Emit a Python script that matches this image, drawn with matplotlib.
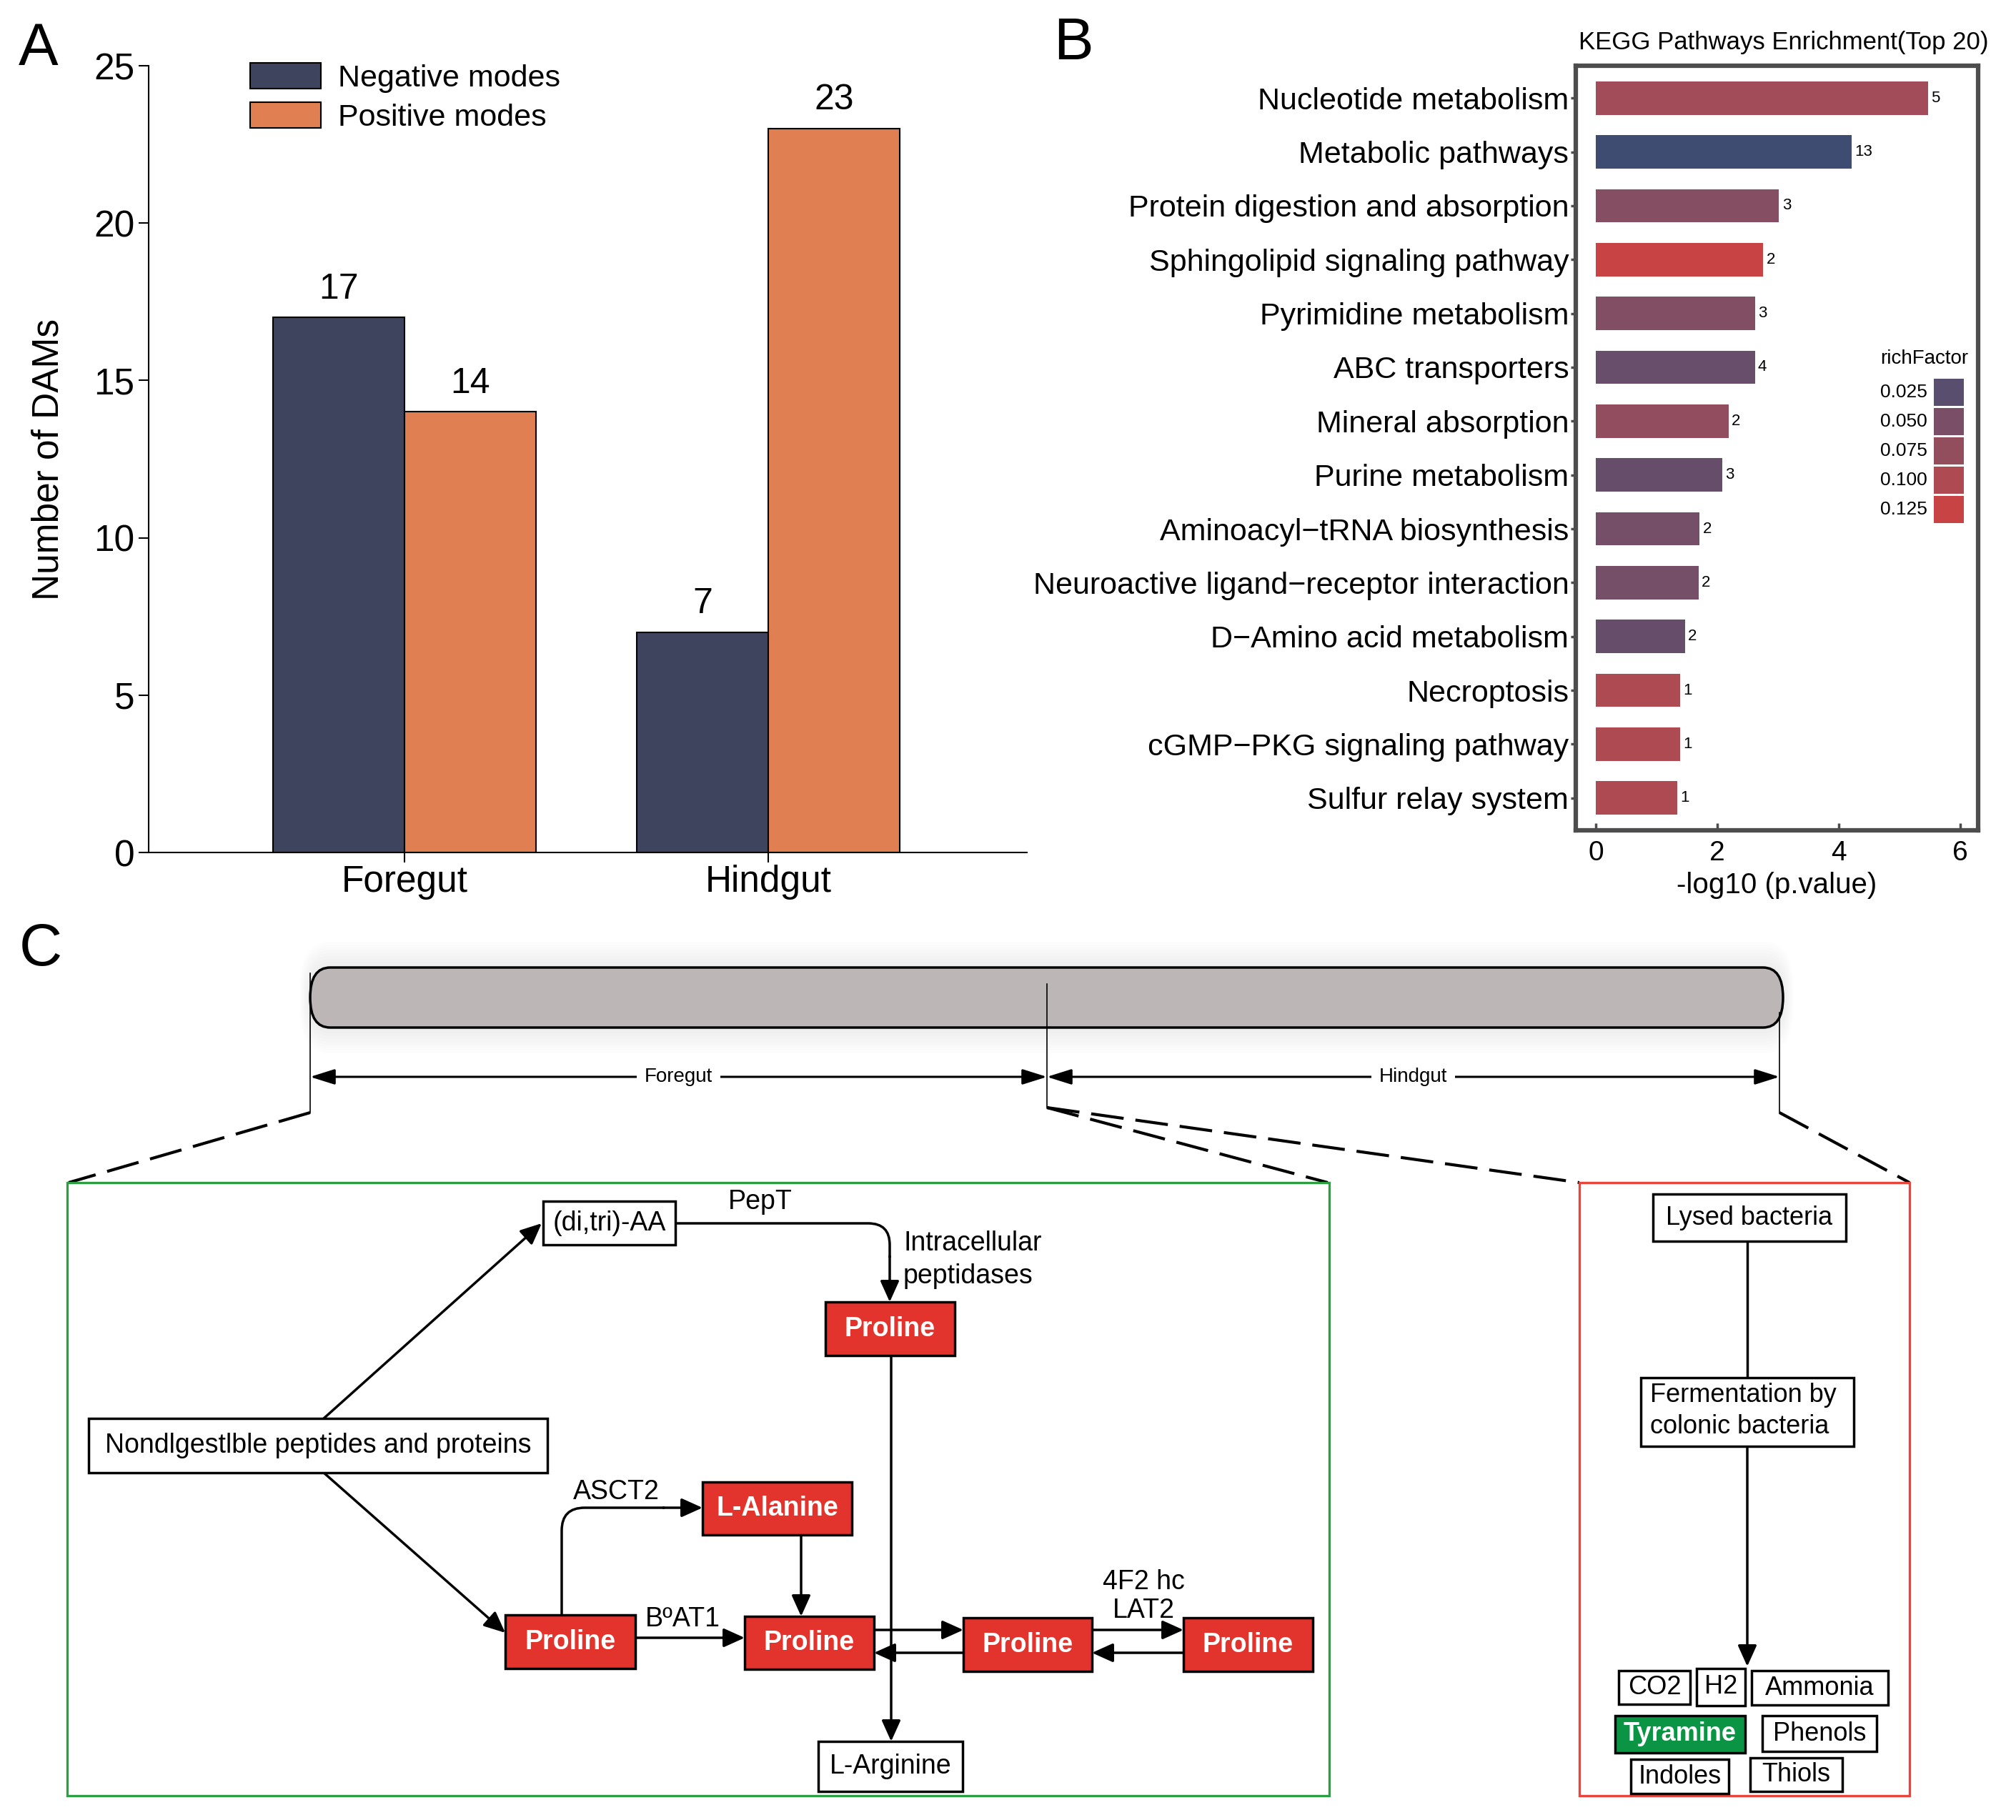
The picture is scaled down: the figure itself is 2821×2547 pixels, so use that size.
import numpy as np
import matplotlib
matplotlib.use('Agg')
import matplotlib.pyplot as plt
from matplotlib.patches import Rectangle, FancyBboxPatch, FancyArrowPatch, PathPatch
from matplotlib.path import Path
from matplotlib.colors import LinearSegmentedColormap, Normalize

plt.rcParams['font.family'] = ['Liberation Sans', 'DejaVu Sans']

# ---------------- data ----------------
# Panel A
groups = ['Foregut', 'Hindgut']
series_names = ['Negative modes', 'Positive modes']
negative_counts = [17, 7]
positive_counts = [14, 23]
a_yticks = [0, 5, 10, 15, 20, 25]

# Panel B
pathways = ['Nucleotide metabolism', 'Metabolic pathways', 'Protein digestion and absorption',
            'Sphingolipid signaling pathway', 'Pyrimidine metabolism', 'ABC transporters',
            'Mineral absorption', 'Purine metabolism', 'Aminoacyl\u2212tRNA biosynthesis',
            'Neuroactive ligand\u2212receptor interaction', 'D\u2212Amino acid metabolism',
            'Necroptosis', 'cGMP\u2212PKG signaling pathway', 'Sulfur relay system']
neglog10_p = [5.47, 4.21, 3.02, 2.76, 2.63, 2.62, 2.19, 2.08, 1.71, 1.69, 1.47, 1.39, 1.39, 1.34]
gene_counts = [5, 13, 3, 2, 3, 4, 2, 3, 2, 2, 2, 1, 1, 1]
rich_factor = [0.088, 0.006, 0.062, 0.125, 0.058, 0.036, 0.074, 0.034, 0.046, 0.046, 0.034,
               0.100, 0.100, 0.100]
rf_breaks = [0.025, 0.050, 0.075, 0.100, 0.125]
b_xticks = [0, 2, 4, 6]

# ---------------- figure ----------------
W, H = 2821, 2547
fig = plt.figure(figsize=(W / 100, H / 100), dpi=100)
fig.patch.set_facecolor('white')


def fx(x):
    return x / W


def fy(y):
    return 1 - y / H


# overlay axes in pixel coordinates (for panel C and the richFactor key)
axC = fig.add_axes([0, 0, 1, 1], zorder=3)
axC.set_xlim(0, W)
axC.set_ylim(H, 0)
axC.axis('off')

# ---------------- Panel A ----------------
c_neg = '#3f445e'
c_pos = '#e08052'
axA = fig.add_axes([fx(208), fy(1193), fx(1437) - fx(208), fy(92) - fy(1193)], zorder=2)
axA.set_facecolor('none')
xpos = np.arange(len(groups))
bw = 0.3615
bars_neg = axA.bar(xpos - bw / 2, negative_counts, width=bw, color=c_neg, edgecolor='black', linewidth=1.5)
bars_pos = axA.bar(xpos + bw / 2, positive_counts, width=bw, color=c_pos, edgecolor='black', linewidth=1.5)
axA.bar_label(bars_neg, padding=12, fontsize=36)
axA.bar_label(bars_pos, padding=12, fontsize=36)
axA.set_xlim(-0.703, 1.711)
axA.set_ylim(0, 25)
axA.set_yticks(a_yticks)
axA.set_xticks(xpos)
axA.set_xticklabels(groups)
for s in ['top', 'right']:
    axA.spines[s].set_visible(False)
for s in ['left', 'bottom']:
    axA.spines[s].set_linewidth(1.5)
axA.tick_params(axis='y', labelsize=37, length=10, width=1.5, pad=4, direction='out')
axA.tick_params(axis='x', labelsize=37, length=10, width=1.5, pad=2, direction='out')
axA.set_ylabel('Number of DAMs', fontsize=37, labelpad=28)
axA.legend([bars_neg, bars_pos], series_names, loc='upper left',
           bbox_to_anchor=(fx(350), fy(88)), bbox_transform=fig.transFigure,
           frameon=False, fontsize=31, handlelength=2.3, handleheight=0.9,
           handletextpad=0.55, labelspacing=0.32, borderpad=0, borderaxespad=0)

# ---------------- Panel B ----------------
nodes_v = [0.006, 0.025, 0.050, 0.075, 0.100, 0.125]
nodes_c = ['#3f4c72', '#5a4e6e', '#7a4e66', '#934e5e', '#ad4a52', '#c84444']
cmap = LinearSegmentedColormap.from_list(
    'rf', [((v - nodes_v[0]) / (nodes_v[-1] - nodes_v[0]), c) for v, c in zip(nodes_v, nodes_c)])
norm = Normalize(vmin=nodes_v[0], vmax=nodes_v[-1])

axB = fig.add_axes([fx(2205), fy(1162), fx(2768) - fx(2205), fy(92) - fy(1162)], zorder=2)
yb = np.arange(len(pathways))
axB.barh(yb, neglog10_p, height=0.62, color=cmap(norm(rich_factor)), edgecolor='none')
for yi, v, c in zip(yb, neglog10_p, gene_counts):
    axB.text(v + 0.05, yi, str(c), ha='left', va='center', fontsize=16)
axB.set_yticks(yb)
axB.set_yticklabels(pathways, fontsize=31)
axB.set_ylim(len(pathways) - 0.4, -0.6)
axB.set_xlim(-0.33, 6.3)
axB.set_xticks(b_xticks)
for s in axB.spines.values():
    s.set_linewidth(4.5)
    s.set_color('#4d4d4d')
axB.tick_params(axis='y', length=5, width=2.5, color='#4d4d4d', pad=2, direction='out')
axB.tick_params(axis='x', labelsize=28, length=7, width=2.5, color='#4d4d4d', pad=10, direction='in')
axB.set_xlabel('-log10 (p.value)', fontsize=29, labelpad=6)
fig.text(fx(2496), fy(60), 'KEGG Pathways Enrichment(Top 20)', ha='center', va='center', fontsize=25)

# richFactor key (inside panel B)
axC.text(2631, 502, 'richFactor', ha='left', va='center', fontsize=20, zorder=6)
for i, v in enumerate(rf_breaks):
    yc = 549 + 41 * i
    axC.add_patch(Rectangle((2706, yc - 19), 42, 38, facecolor=cmap(norm(v)), edgecolor='none', zorder=6))
    axC.text(2631, yc, '%.3f' % v, ha='left', va='center', fontsize=19, zorder=6)

# ---------------- panel letters ----------------
fig.text(fx(26), fy(30), 'A', ha='left', va='top', fontsize=60)
fig.text(fx(1474), fy(22), 'B', ha='left', va='top', fontsize=60)
fig.text(fx(27), fy(1290), 'C', ha='left', va='top', fontsize=60)

# ---------------- Panel C ----------------
ax = axC
tube_x0, tube_y0, tube_x1, tube_y1 = 434, 1354, 2495, 1438
for p in range(36, 0, -4):
    ax.add_patch(FancyBboxPatch((tube_x0 - p * 0.4, tube_y0 - p), tube_x1 - tube_x0 + 0.8 * p,
                                tube_y1 - tube_y0 + 2 * p,
                                boxstyle='round,pad=0,rounding_size=%f' % (28 + p * 0.4),
                                mutation_aspect=1.5, facecolor='#9a9090', edgecolor='none',
                                alpha=0.015, zorder=1))
ax.add_patch(FancyBboxPatch((tube_x0, tube_y0), tube_x1 - tube_x0, tube_y1 - tube_y0,
                            boxstyle='round,pad=0,rounding_size=28', mutation_aspect=1.5,
                            facecolor='#bcb7b6', edgecolor='black', linewidth=2.5, zorder=2))
ax.plot([434, 434], [1362, 1557], color='black', lw=1.2, zorder=3)
ax.plot([1465, 1465], [1377, 1550], color='black', lw=1.2, zorder=3)
ax.plot([2490, 2490], [1417, 1557], color='black', lw=1.2, zorder=3)
for (x0, x1, lab) in [(434, 1465, 'Foregut'), (1465, 2490, 'Hindgut')]:
    ax.add_patch(FancyArrowPatch((x0, 1507), (x1, 1507),
                                 arrowstyle='<|-|>,head_length=0.7,head_width=0.22',
                                 mutation_scale=30, lw=2.2, color='black',
                                 shrinkA=0, shrinkB=0, zorder=3))
    ax.text((x0 + x1) / 2, 1507, lab, ha='center', va='center', fontsize=20, zorder=4,
            bbox=dict(facecolor='white', edgecolor='none', pad=8))
dash = dict(color='black', lw=3, linestyle=(0, (11, 4)), zorder=3)
ax.plot([434, 96], [1557, 1655], **dash)
ax.plot([1465, 1858], [1550, 1655], **dash)
ax.plot([1465, 2210], [1550, 1655], **dash)
ax.plot([2490, 2672], [1557, 1655], **dash)

ax.add_patch(Rectangle((94, 1655), 1860 - 94, 2513 - 1655, facecolor='none',
                       edgecolor='#2e9e44', lw=2.4, zorder=3))
ax.add_patch(Rectangle((2210, 1655), 2672 - 2210, 2513 - 1655, facecolor='none',
                       edgecolor='#e8453c', lw=2.4, zorder=3))

RED = '#e2332c'


def box(x0, y0, x1, y1, text, fc='white', tc='black', bold=False, fs=27, lw=2.5):
    ax.add_patch(Rectangle((x0, y0), x1 - x0, y1 - y0, facecolor=fc, edgecolor='black',
                           lw=lw, zorder=5))
    ax.text((x0 + x1) / 2, (y0 + y1) / 2, text, ha='center', va='center', fontsize=fs,
            color=tc, fontweight='bold' if bold else 'normal', zorder=6)


def arrow(p0, p1, lw=2.5):
    ax.add_patch(FancyArrowPatch(p0, p1, arrowstyle='-|>,head_length=0.6,head_width=0.27',
                                 mutation_scale=30, lw=lw, color='black',
                                 shrinkA=0, shrinkB=0, zorder=4))


def polyline(pts, curve_idx=None, lw=2.5):
    verts, codes = [], []
    for i, p in enumerate(pts):
        verts.append(p)
        if i == 0:
            codes.append(Path.MOVETO)
        elif curve_idx is not None and i in curve_idx:
            codes.append(Path.CURVE3)
        else:
            codes.append(Path.LINETO)
    ax.add_patch(PathPatch(Path(verts, codes), facecolor='none', edgecolor='black', lw=lw,
                           zorder=4))


# left (green) panel
box(760, 1681, 945, 1742, '(di,tri)-AA')
ax.text(1064, 1682, 'PepT', ha='center', va='center', fontsize=27)
ax.text(1264, 1740, 'Intracellular', ha='left', va='center', fontsize=27)
ax.text(1264, 1786, 'peptidases', ha='left', va='center', fontsize=27)
box(1155, 1822, 1336, 1897, 'Proline', fc=RED, tc='white', bold=True)
box(124, 1985, 766, 2061, 'Nondlgestlble peptides and proteins')
box(707, 2260, 889, 2335, 'Proline', fc=RED, tc='white', bold=True)
box(983, 2074, 1192, 2148, 'L-Alanine', fc=RED, tc='white', bold=True)
box(1042, 2262, 1223, 2336, 'Proline', fc=RED, tc='white', bold=True)
box(1348, 2264, 1528, 2339, 'Proline', fc=RED, tc='white', bold=True)
box(1656, 2264, 1837, 2339, 'Proline', fc=RED, tc='white', bold=True)
box(1145, 2437, 1347, 2507, 'L-Arginine')
ax.text(862, 2088, 'ASCT2', ha='center', va='center', fontsize=27)
ax.text(955, 2266, 'B\u00baAT1', ha='center', va='center', fontsize=27)
ax.text(1600, 2214, '4F2 hc', ha='center', va='center', fontsize=27)
ax.text(1600, 2254, 'LAT2', ha='center', va='center', fontsize=27)

arrow((453, 1985), (758, 1712))
arrow((453, 2061), (707, 2285))
polyline([(945, 1712), (1215, 1712), (1245, 1712), (1245, 1742), (1245, 1760)], curve_idx=[2, 3])
arrow((1245, 1758), (1245, 1822))
arrow((1247, 1897), (1247, 2437))
polyline([(786, 2260), (786, 2142), (786, 2110), (818, 2110), (930, 2110)], curve_idx=[2, 3])
arrow((928, 2110), (983, 2110))
arrow((889, 2292), (1042, 2292))
arrow((1121, 2148), (1121, 2262))
arrow((1223, 2281), (1348, 2281))
arrow((1348, 2313), (1223, 2313))
arrow((1528, 2281), (1656, 2281))
arrow((1656, 2313), (1528, 2313))

# right (red) panel
dx = -7
box(2320 + dx, 1671, 2590 + dx, 1737, 'Lysed bacteria', fs=26)
ax.plot([2452 + dx, 2452 + dx], [1737, 1928], color='black', lw=2.5, zorder=4)
ax.add_patch(Rectangle((2303 + dx, 1928), 2601 - 2303, 2024 - 1928, facecolor='white',
                       edgecolor='black', lw=2.5, zorder=5))
ax.text(2316 + dx, 1952, 'Fermentation by', ha='left', va='center', fontsize=26, zorder=6)
ax.text(2316 + dx, 1997, 'colonic bacteria', ha='left', va='center', fontsize=26, zorder=6)
arrow((2452 + dx, 2024), (2452 + dx, 2332))
box(2272 + dx, 2338, 2372 + dx, 2385, 'CO2', fs=26)
box(2381 + dx, 2335, 2449 + dx, 2387, 'H2', fs=26)
box(2458 + dx, 2338, 2649 + dx, 2386, 'Ammonia', fs=26)
box(2267 + dx, 2401, 2449 + dx, 2453, 'Tyramine', fc='#0b9444', tc='white', bold=True, fs=26)
box(2473 + dx, 2401, 2633 + dx, 2451, 'Phenols', fs=26)
box(2289 + dx, 2462, 2426 + dx, 2510, 'Indoles', fs=26)
box(2456 + dx, 2460, 2585 + dx, 2507, 'Thiols', fs=26)

fig.savefig('out.png', dpi=100, facecolor='white')
